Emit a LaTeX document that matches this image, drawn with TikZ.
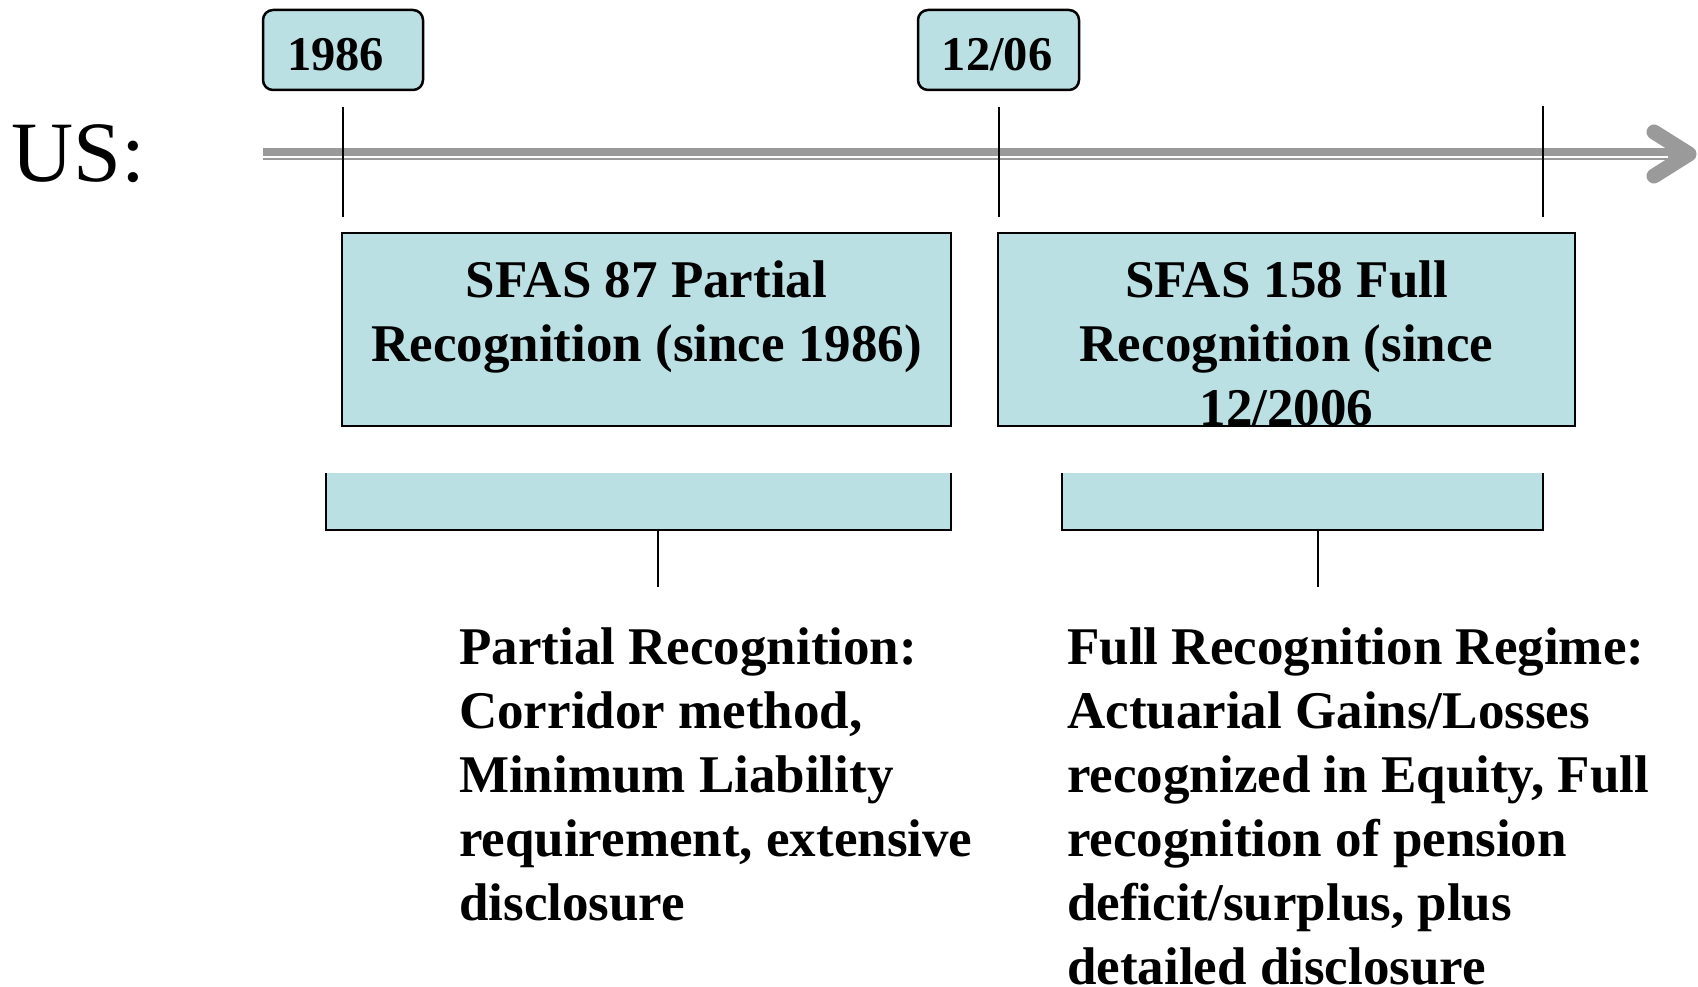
\documentclass[tikz,border=0pt]{standalone}
\usepackage{fontspec}
\setmainfont{Liberation Serif}
\definecolor{boxblue}{HTML}{BBE0E3}
\definecolor{tlgray}{HTML}{9A9A9A}
\begin{document}
\begin{tikzpicture}[x=1pt,y=-1pt,
  datebox/.style={draw=black, line width=2.5pt, fill=boxblue, rounded corners=10pt, inner sep=0pt},
  datetext/.style={font=\bfseries\fontsize{48.5}{56}\selectfont, inner sep=0pt},
  panel/.style={draw=black, line width=2pt, fill=boxblue, inner sep=0pt},
  barbox/.style={fill=boxblue, inner sep=0pt},
  edge/.style={draw=black, line width=2pt},
  bodytext/.style={font=\bfseries\fontsize{53}{64}\selectfont, inner sep=0pt},
]
\useasboundingbox (0,0) rectangle (1698,987);
\fill[white] (0,0) rectangle (1698,987);

% label
\node[font=\fontsize{86}{100}\selectfont, anchor=base west, inner sep=0pt] (us) at (11,182) {US:};

% timeline
\coordinate (tl0) at (263,154);
\coordinate (tl1) at (1686,154);
\draw[tlgray, line width=12pt] (tl0) -- (tl1);
\draw[white, line width=1.6pt] (263,157) -- (1668,157);
\coordinate (ah1) at (1654,132);
\coordinate (ah2) at (1654,176);
\coordinate (ahtip) at (1689,154);
\draw[tlgray, line width=15pt, line cap=round, line join=round] (ah1) -- (ahtip) -- (ah2);

% date boxes
\node[datebox, minimum width=160pt, minimum height=80pt] (d1) at (343,50) {};
\node[datetext, anchor=base west] (d1t) at (287,71) {1986};
\node[datebox, minimum width=161pt, minimum height=80pt] (d2) at (998.5,50) {};
\node[datetext, anchor=base] (d2t) at (997,71) {12/06};

% ticks
\coordinate (k1a) at (343,107); \coordinate (k1b) at (343,217);
\coordinate (k2a) at (999,107); \coordinate (k2b) at (999,217);
\coordinate (k3a) at (1543,106); \coordinate (k3b) at (1543,217);
\draw[edge] (k1a) -- (k1b);
\draw[edge] (k2a) -- (k2b);
\draw[edge] (k3a) -- (k3b);

% panels
\node[panel, minimum width=609pt, minimum height=193pt] (p1) at (646.5,329.5) {};
\node[bodytext, align=center, anchor=north] (p1t) at (646.5,249) {\rule{0pt}{48pt}SFAS 87 Partial\\Recognition (since 1986)};
\node[panel, minimum width=577pt, minimum height=193pt] (p2) at (1286.5,329.5) {};
\node[bodytext, align=center, anchor=north] (p2t) at (1286.5,249) {\rule{0pt}{48pt}SFAS 158 Full\\Recognition (since\\12/2006};

% bars
\node[barbox, minimum width=625pt, minimum height=57pt] (b1) at (638.5,501.5) {};
\draw[edge] (b1.north west) -- (b1.south west) -- (b1.south east) -- (b1.north east);
\node[barbox, minimum width=481pt, minimum height=57pt] (b2) at (1302.5,501.5) {};
\draw[edge] (b2.north west) -- (b2.south west) -- (b2.south east) -- (b2.north east);
\coordinate (s1) at (658,587);
\coordinate (s2) at (1318,587);
\draw[edge] (s1 |- b1.south) -- (s1);
\draw[edge] (s2 |- b2.south) -- (s2);

% descriptions
\node[bodytext, align=left, anchor=north west] (l1) at (459,616) {\rule{0pt}{48pt}Partial Recognition:\\Corridor method,\\Minimum Liability\\requirement, extensive\\disclosure};
\node[bodytext, align=left, anchor=north west] (l2) at (1067,616) {\rule{0pt}{48pt}Full Recognition Regime:\\Actuarial Gains/Losses\\recognized in Equity, Full\\recognition of pension\\deficit/surplus, plus\\detailed disclosure};
\end{tikzpicture}
\end{document}
